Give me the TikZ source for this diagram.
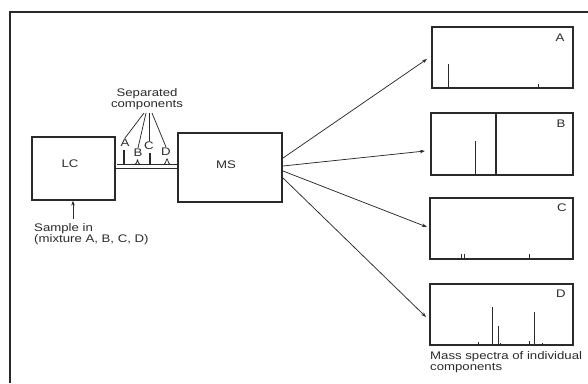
\documentclass[tikz,border=0pt]{standalone}
\usepackage{fontspec}
\setmainfont{Liberation Sans}[FakeStretch=1.2]
\usetikzlibrary{arrows.meta,calc}
\definecolor{ink}{HTML}{2A2A2A}
\tikzset{
  box/.style={draw=ink, line width=1.3pt, minimum width=#1, inner sep=0pt},
  txt/.style={text=ink, font=\fontsize{11}{11.5}\selectfont, inner sep=1pt},
  peak/.style={draw=ink, line width=1.1pt},
  arr/.style={draw=ink, line width=0.75pt, -{Stealth[length=5pt,width=3.5pt]}},
  fan/.style={draw=ink, line width=0.75pt},
}
\begin{document}
\begin{tikzpicture}[x=1pt,y=-1pt]
\useasboundingbox (0,0) rectangle (588,383);
% frame
\draw[ink, line width=1.5pt] (10,383) -- (10,12) -- (588,12);
% main boxes
\node[box=83pt, minimum height=63pt, txt] (lc) at (73.5,168.5) {};
\node[txt] (lct) at (70,164) {LC};
\node[box=104pt, minimum height=69pt] (ms) at (230,167.5) {};
\node[txt] (mst) at (226,165) {MS};
% spectra boxes
\node[box=141pt, minimum height=61pt] (sA) at (502.5,57.5) {};
\node[box=142pt, minimum height=62pt] (sB) at (502,144) {};
\node[box=143pt, minimum height=61pt] (sC) at (501.5,228.5) {};
\node[box=143pt, minimum height=61pt] (sD) at (501.5,314.5) {};
\node[txt] (lA) at (560,38) {A};
\node[txt] (lB) at (561,124) {B};
\node[txt] (lC) at (562,208) {C};
\node[txt] (lD) at (561,294) {D};
% chromatogram lines between LC and MS
\coordinate (c1) at (117,164);
\coordinate (c2) at (lc.east |- 0,168);
\draw[ink, line width=1pt] (c1) -- (ms.west |- c1);
\draw[ink, line width=1pt] (c2) -- (ms.west |- c2);
\draw[peak] (124,164) -- (124,150);
\draw[ink, line width=0.8pt] (135,164) .. controls (137,164) and (137,160) .. (137.5,160) .. controls (138,160) and (138,164) .. (140,164);
\draw[peak] (150,164) -- (150,153);
\draw[ink, line width=0.8pt] (164,164) .. controls (166,164) and (166,159) .. (167,159) .. controls (168,159) and (168,164) .. (170,164);
% peak labels
\node[txt] (pA) at (125,143) {A};
\node[txt] (pB) at (138,153) {B};
\node[txt] (pC) at (149,146) {C};
\node[txt] (pD) at (166,152) {D};
\node[txt, align=center] (sep) at (147,99) {Separated\\components};
\coordinate (f1) at (144,113);
\coordinate (f2) at (146,113);
\coordinate (f3) at (149,113);
\coordinate (f4) at (152,113);
\draw[fan] (f1) -- (pA.north);
\draw[fan] (f2) -- (pB.north);
\draw[fan] (f3) -- (pC.north);
\draw[fan] (f4) -- (pD.north);
% sample in
\node[txt, align=left, anchor=west] (samp) at (33,234) {Sample in\\(mixture A, B, C, D)};
\coordinate (sin) at (73,219);
\draw[arr] (sin) -- (lc.south -| sin);
% arrows MS -> spectra
\coordinate (m1) at (283,158);
\coordinate (m2) at (283,166);
\coordinate (m3) at (283,171);
\coordinate (m4) at (283,178);
\coordinate (tA) at (427,59);
\coordinate (tB) at (425,151);
\coordinate (tC) at (427,227);
\coordinate (tD) at (426,317);
\draw[arr] (m1) -- (tA);
\draw[arr] (m2) -- (tB);
\draw[arr] (m3) -- (tC);
\draw[arr] (m4) -- (tD);
% spectrum A
\begin{scope}[shift={(sA.south west)}]
\draw[peak] (17,0) -- ++(0,-25);
\draw[peak] (107,0) -- ++(0,-5);
\end{scope}
% spectrum B
\draw[ink, line width=1.3pt] (496,113) -- (496,175);
\begin{scope}[shift={(sB.south west)}]
\draw[peak] (45,0) -- ++(0,-35);
\end{scope}
% spectrum C
\begin{scope}[shift={(sC.south west)}]
\draw[peak] (32,0) -- ++(0,-6);
\draw[peak] (35,0) -- ++(0,-6);
\draw[peak] (100,0) -- ++(0,-6);
\end{scope}
% spectrum D
\begin{scope}[shift={(sD.south west)}]
\draw[peak] (49,0) -- ++(0,-4);
\draw[peak] (63,0) -- ++(0,-39);
\draw[peak] (69,0) -- ++(0,-20);
\draw[peak] (71,0) -- ++(0,-3);
\draw[peak] (100,0) -- ++(0,-5);
\draw[peak] (105,0) -- ++(0,-34);
\draw[peak] (113,0) -- ++(0,-3);
\end{scope}
\node[txt, align=left, anchor=north west] (mass) at (429,350) {Mass spectra of individual\\components};
\end{tikzpicture}
\end{document}
